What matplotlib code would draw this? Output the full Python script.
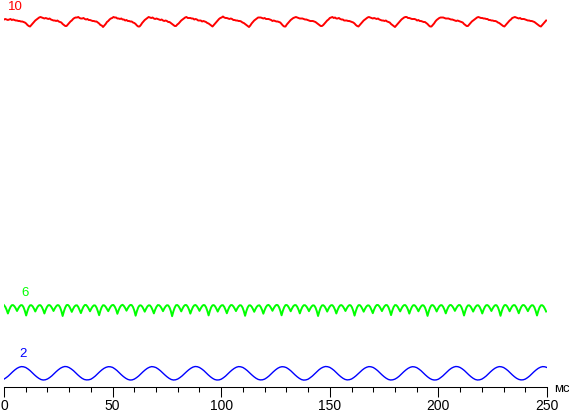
import numpy as np
import matplotlib
matplotlib.use("Agg")
import matplotlib.pyplot as plt

plt.rcParams['font.family'] = ['Liberation Sans', 'DejaVu Sans']

# brightness traces (arbitrary units), time in ms
level_labels = ["10", "6", "2"]
trace_colors = ["#ff0000", "#00ff00", "#0000ff"]

# level 10 and level 6: one sample every 0.6 ms
red = [
    367.5, 368.0, 367.5, 367.0, 367.5, 368.0, 367.0, 367.5, 367.0, 366.5, 366.5, 366.0, 366.0, 365.5, 365.5, 365.0, 364.5, 363.5, 362.0, 361.0,
    360.5, 362.0, 363.5, 365.0, 366.5, 367.5, 368.5, 369.5, 370.0, 369.5, 369.0, 368.5, 369.0, 368.5, 368.0, 368.5, 367.5, 367.0, 366.5, 366.5, 366.0, 366.5, 365.5, 365.0, 364.5, 363.0, 362.0, 361.0,
    361.0, 362.5, 364.0, 365.5, 366.5, 368.0, 369.0, 369.5, 369.5, 370.0, 369.0, 368.5, 368.5, 369.0, 368.0, 367.5, 368.0, 367.0, 367.0, 366.5, 366.0, 366.0, 365.5, 365.5, 364.5, 363.5, 362.0, 361.5,
    360.0, 361.5, 363.0, 365.0, 366.0, 367.5, 368.5, 369.0, 370.0, 369.5, 369.5, 368.5, 368.5, 368.0, 368.5, 367.5, 367.5, 366.5, 367.0, 366.0, 366.0, 365.5, 365.5, 364.5, 364.0, 363.0, 361.5, 360.5,
    360.5, 362.0, 364.0, 365.5, 367.0, 368.0, 369.0, 370.0, 369.5, 369.0, 369.5, 368.5, 368.0, 368.5, 368.0, 367.5, 367.0, 367.5, 366.5, 366.0, 366.5, 366.0, 365.0, 365.0, 364.0, 363.0, 362.0, 361.0,
    361.0, 362.5, 363.5, 365.0, 366.5, 367.5, 368.5, 369.5, 370.0, 369.0, 369.0, 369.0, 368.5, 368.5, 367.5, 368.0, 367.5, 366.5, 366.5, 366.5, 365.5, 366.0, 365.5, 365.0, 364.0, 363.5, 362.5, 361.5,
    360.5, 362.0, 363.5, 365.0, 366.5, 368.0, 369.0, 369.5, 370.5, 369.5, 369.0, 369.0, 368.5, 368.0, 368.5, 368.0, 367.0, 367.0, 366.5, 366.5, 366.0, 366.0, 365.5, 364.5, 364.0, 363.0, 362.0, 361.0,
    360.0, 361.5, 363.5, 365.0, 366.5, 367.5, 368.5, 369.5, 369.5, 369.5, 369.0, 368.5, 369.0, 368.0, 368.0, 368.0, 367.5, 367.0, 366.0, 366.5, 366.0, 365.5, 365.5, 365.0, 364.5, 363.0, 361.5, 360.5,
    360.5, 362.5, 364.0, 365.5, 367.0, 368.0, 369.0, 369.5, 370.0, 369.5, 369.0, 368.5, 368.5, 368.5, 368.0, 367.5, 367.5, 367.0, 366.5, 366.0, 366.0, 366.0, 365.5, 365.0, 364.0, 363.0, 362.0, 361.0,
    361.0, 362.0, 363.5, 365.0, 366.5, 367.5, 369.0, 369.5, 370.0, 369.0, 369.5, 368.5, 368.5, 369.0, 368.0, 367.5, 367.5, 366.5, 366.5, 366.5, 366.0, 366.0, 365.5, 365.0, 364.5, 363.5, 362.0, 361.0,
    360.5, 362.0, 363.5, 365.0, 366.5, 367.5, 368.5, 369.5, 370.0, 369.5, 369.0, 368.5, 369.0, 368.5, 368.0, 368.5, 367.5, 367.0, 366.5, 366.5, 366.0, 366.5, 365.5, 365.0, 364.5, 363.0, 362.0, 361.0,
    360.0, 361.5, 363.0, 364.5, 366.0, 367.5, 368.5, 369.5, 370.0, 370.0, 369.0, 369.0, 368.5, 368.0, 368.0, 368.0, 367.5, 366.5, 367.0, 366.0, 366.0, 365.5, 365.0, 365.0, 364.0, 363.0, 361.5, 360.5,
    360.5, 362.0, 363.5, 365.5, 367.0, 368.0, 369.0, 369.5, 369.5, 369.5, 369.0, 368.5, 368.5, 368.5, 368.0, 367.5, 367.5, 367.0, 366.5, 366.0, 366.5, 366.0, 365.5, 365.0, 364.5, 363.0, 362.0, 361.0,
    361.0, 362.5, 364.0, 365.5, 366.5, 367.5, 368.5, 369.5, 370.0, 369.5, 369.0, 369.0, 368.5, 368.5, 368.0, 368.0, 367.0, 367.0, 366.5, 366.5, 366.0, 366.0, 365.5, 364.5, 364.0, 363.0, 362.0, 361.0,
    360.5, 362.0, 363.5, 365.0, 366.5, 367.5, 369.0, 369.5, 370.0, 369.5, 369.0, 368.5, 369.0, 368.0, 368.0, 368.0, 367.5, 367.0, 366.5, 366.5, 366.0, 366.0, 365.5, 365.0, 364.0, 363.0, 362.0, 361.0,
    360.5, 362.0, 363.5, 365.0, 366.5,
]

green = [
    81.8, 80.1, 77.2, 73.5, 77.2, 80.1, 81.8, 81.9, 80.7, 78.6, 76.0, 78.6, 80.7, 81.9, 81.7, 79.7, 76.1,
    71.5, 76.1, 79.7, 81.7, 81.8, 80.6, 78.3, 75.5, 78.3, 80.6, 81.8, 81.8, 80.1, 77.2, 73.5, 77.2, 80.1, 81.8, 81.9, 80.7, 78.6, 76.0, 78.6, 80.7, 81.9, 81.7, 79.7, 76.1,
    71.0, 75.8, 79.5, 81.9, 82.1, 80.8, 78.2, 75.1, 78.0, 80.4, 81.6, 81.7, 80.0, 77.0, 73.9, 77.4, 80.3, 82.0, 82.0, 80.5, 78.3, 75.7, 78.4, 80.5, 81.7, 81.5, 79.4, 75.8,
    71.8, 76.4, 79.9, 81.8, 81.6, 80.2, 78.0, 75.8, 78.5, 80.7, 81.9, 82.0, 80.3, 77.4, 73.2, 76.9, 79.9, 81.6, 82.2, 81.0, 78.9, 76.3, 78.8, 80.9, 82.1, 81.9, 79.9, 76.4,
    71.3, 75.9, 79.6, 81.5, 81.7, 80.5, 78.1, 75.3, 78.1, 80.5, 81.7, 81.6, 79.9, 77.0, 73.6, 77.3, 80.2, 81.9, 81.8, 80.6, 78.5, 75.8, 78.5, 80.6, 81.8, 81.6, 79.6, 76.0,
    70.8, 75.7, 79.4, 81.8, 82.0, 80.7, 78.4, 75.6, 78.4, 80.8, 82.0, 81.9, 80.2, 77.3, 73.4, 77.0, 80.0, 81.7, 82.0, 80.8, 78.7, 76.1, 78.7, 80.8, 82.0, 81.8, 79.8, 76.2,
    71.6, 76.2, 79.8, 81.7, 81.9, 80.6, 78.2, 75.4, 78.2, 80.5, 81.7, 81.8, 80.1, 77.1, 73.7, 77.3, 80.2, 81.9, 81.9, 80.6, 78.4, 75.9, 78.5, 80.6, 81.8, 81.6, 79.6, 75.9,
    71.2, 76.0, 79.6, 81.6, 81.7, 80.4, 78.0, 75.2, 78.0, 80.3, 81.5, 81.7, 80.0, 77.1, 73.3, 77.0, 80.0, 81.7, 82.1, 80.9, 78.8, 76.2, 78.8, 80.9, 82.1, 81.9, 79.9, 76.3,
    71.7, 76.3, 79.8, 81.9, 82.0, 80.7, 78.4, 75.7, 78.5, 80.8, 81.9, 81.9, 80.2, 77.3, 73.6, 77.3, 80.2, 81.8, 81.8, 80.6, 78.5, 75.8, 78.4, 80.5, 81.7, 81.5, 79.5, 75.9,
    71.0, 75.8, 79.5, 81.6, 81.8, 80.6, 78.3, 75.4, 78.2, 80.6, 81.8, 81.8, 80.1, 77.2, 73.5, 77.1, 80.0, 81.7, 81.9, 80.7, 78.6, 76.0, 78.6, 80.7, 81.9, 81.7, 79.7, 76.1,
    71.4, 76.0, 79.7, 81.8, 81.9, 80.5, 78.1, 75.3, 78.1, 80.4, 81.6, 81.6, 79.9, 77.0, 73.8, 77.5, 80.4, 82.0, 82.0, 80.7, 78.5, 75.9, 78.6, 80.8, 82.0, 81.8, 79.8, 76.2,
    71.9, 76.5, 80.0, 81.9, 81.8, 80.4, 78.1, 75.6, 78.4, 80.7, 81.9, 81.9, 80.2, 77.3, 73.4, 77.1, 80.1, 81.8, 81.8, 80.5, 78.3, 75.7, 78.4, 80.6, 81.8, 81.6, 79.6, 76.0,
    71.1, 75.9, 79.6, 81.7, 81.9, 80.7, 78.4, 75.5, 78.3, 80.6, 81.8, 81.8, 80.1, 77.2, 73.6, 77.2, 80.1, 81.8, 82.0, 80.8, 78.7, 76.1, 78.7, 80.8, 82.0, 81.8, 79.8, 76.2,
    71.5, 76.1, 79.7, 81.6, 81.7, 80.5, 78.2, 75.4, 78.2, 80.5, 81.7, 81.7, 80.0, 77.1, 73.5, 77.2, 80.1, 81.8, 81.9, 80.7, 78.6, 76.0, 78.6, 80.7, 81.9, 81.7, 79.7, 76.1,
    71.2, 76.0, 79.6, 81.8, 82.0, 80.8, 78.5, 75.7, 78.5, 80.8, 81.9, 81.8, 80.0, 77.0, 73.7, 77.4, 80.3, 81.9, 81.9, 80.6, 78.4, 75.8, 78.5, 80.6, 81.8, 81.6, 79.6, 76.0,
    71.5, 76.1, 79.7, 81.7, 81.8, 80.6, 78.3, 75.5,
]

# level 2: one sample every 1 ms
blue = [
    7.9, 9.3, 11.0, 13.1, 15.2, 17.1, 18.7, 19.8, 20.4, 20.2, 19.5, 18.1, 16.4, 14.3, 12.2, 10.3, 8.7, 7.5, 7.0, 7.2,
    8.0, 9.4, 11.1, 13.2, 15.3, 17.2, 18.8, 19.9, 20.5, 20.3, 19.4, 18.0, 16.3, 14.2, 12.1, 10.2, 8.6, 7.5, 7.1, 7.2,
    7.8, 9.2, 10.9, 13.0, 15.1, 17.0, 18.6, 19.7, 20.3, 20.2, 19.6, 18.2, 16.5, 14.4, 12.3, 10.4, 8.8, 7.6, 7.0, 7.1,
    7.9, 9.3, 11.0, 13.1, 15.2, 17.1, 18.7, 19.8, 20.4, 20.1, 19.4, 18.0, 16.3, 14.2, 12.2, 10.3, 8.7, 7.5, 7.0, 7.2,
    8.0, 9.4, 11.1, 13.2, 15.2, 17.1, 18.7, 19.9, 20.5, 20.3, 19.5, 18.1, 16.4, 14.3, 12.2, 10.3, 8.7, 7.5, 7.0, 7.1,
    7.8, 9.2, 10.9, 13.0, 15.1, 17.0, 18.6, 19.8, 20.4, 20.2, 19.5, 18.1, 16.4, 14.3, 12.3, 10.4, 8.8, 7.6, 7.1, 7.2,
    7.9, 9.3, 11.0, 13.1, 15.2, 17.1, 18.7, 19.8, 20.3, 20.1, 19.4, 18.0, 16.3, 14.2, 12.1, 10.2, 8.6, 7.4, 6.9, 7.1,
    7.8, 9.3, 11.0, 13.1, 15.2, 17.2, 18.8, 19.9, 20.5, 20.3, 19.6, 18.2, 16.5, 14.4, 12.3, 10.4, 8.8, 7.6, 7.1, 7.3,
    8.0, 9.4, 11.1, 13.1, 15.2, 17.1, 18.7, 19.8, 20.4, 20.2, 19.5, 18.1, 16.4, 14.3, 12.2, 10.3, 8.7, 7.5, 7.0, 7.2,
    7.9, 9.2, 10.9, 13.0, 15.1, 17.0, 18.6, 19.7, 20.3, 20.1, 19.4, 18.0, 16.3, 14.2, 12.1, 10.2, 8.6, 7.5, 7.0, 7.1,
    7.8, 9.3, 11.0, 13.1, 15.3, 17.2, 18.8, 19.9, 20.5, 20.3, 19.5, 18.1, 16.4, 14.3, 12.2, 10.3, 8.7, 7.5, 7.0, 7.2,
    7.9, 9.3, 11.0, 13.1, 15.2, 17.1, 18.7, 19.8, 20.4, 20.2, 19.5, 18.1, 16.4, 14.3, 12.2, 10.3, 8.7, 7.6, 7.1, 7.2,
    7.9, 9.3, 11.0, 13.1, 15.2, 17.1, 18.7, 19.8, 20.4, 20.2, 19.5,
]

x_major = [0, 50, 100, 150, 200, 250]
x_unit = "мс"

t_fast = np.arange(len(red)) * 0.6
t_blue = np.arange(len(blue)) * 1.0

W, H = 569, 413
fig = plt.figure(figsize=(W / 100, H / 100), dpi=100)
ax = fig.add_axes([4 / W, 26 / H, 543 / W, 387 / H])

ax.plot(t_fast, red, color=trace_colors[0], lw=1.4)
ax.plot(t_fast, green, color=trace_colors[1], lw=1.4)
ax.plot(t_blue, blue, color=trace_colors[2], lw=1.0)

ax.set_xlim(0, 250)
ax.set_ylim(0, 387)

# level captions above each trace
ax.text(1.8, 377, level_labels[0], color=trace_colors[0], fontsize=9.5, va='baseline')
ax.text(7.9, 91.3, level_labels[1], color=trace_colors[1], fontsize=9.5, va='baseline')
ax.text(7.2, 30.3, level_labels[2], color=trace_colors[2], fontsize=9.5, va='baseline')
ax.text(253.5, -5.3, x_unit, fontsize=9.5, va='baseline', clip_on=False)

for s in ['left', 'top', 'right']:
    ax.spines[s].set_visible(False)
ax.spines['bottom'].set_linewidth(0.75)
ax.spines['bottom'].set_color('black')

ax.set_yticks([])
ax.set_xticks(x_major)
ax.set_xticks(np.arange(0, 251, 10), minor=True)
ax.tick_params(axis='x', which='major', direction='out', length=7.2, width=0.75,
               pad=1.3, labelsize=10, colors='black')
ax.tick_params(axis='x', which='minor', direction='out', length=3.6, width=0.75)
ax.patch.set_visible(False)

fig.savefig("out.png", dpi=100)
